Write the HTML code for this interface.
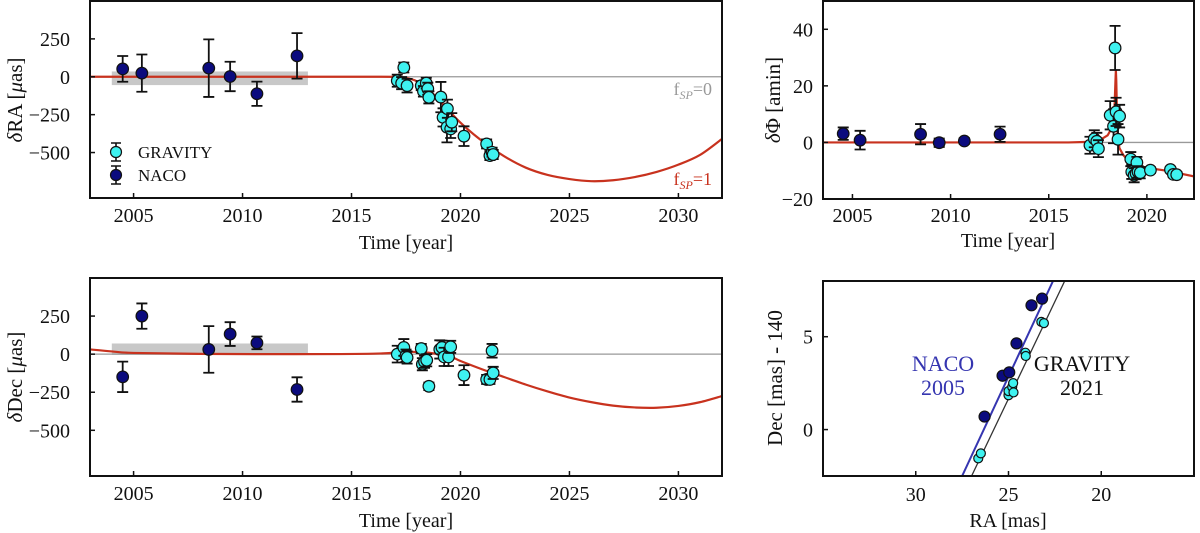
<!DOCTYPE html>
<html><head><meta charset="utf-8"><style>
html,body{margin:0;padding:0;background:#fff;}
svg{display:block;font-family:"Liberation Serif",serif;}
</style></head><body>
<svg id="fig" width="1200" height="533" viewBox="0 0 1200 533" xmlns="http://www.w3.org/2000/svg"></svg>
<script>
// ---- data ----
const raNacoT=[2004.5,2005.38,2008.45,2009.43,2010.66,2012.5];
const raNacoV=[52,24,57,2,-112,138];
const raNacoE=[85,123,190,97,80,150];
const raGravT=[2017.1,2017.3,2017.4,2017.55,2018.2,2018.3,2018.43,2018.5,2018.55,2019.1,2019.2,2019.38,2019.4,2019.55,2019.6,2020.16,2021.2,2021.35,2021.45,2021.5];
const raGravV=[-26,-42,61,-59,-59,-96,-42,-79,-136,-134,-268,-333,-211,-344,-300,-392,-443,-520,-498,-513];
const raGravE=[40,40,33,45,30,35,35,40,40,100,60,100,60,60,60,65,30,30,30,30];
const raCurveT=[2003,2016,2017,2017.5,2018,2018.5,2019,2020,2021,2022,2023,2024,2025,2026,2027,2028,2029,2030,2031,2032];
const raCurveV=[0,0,-3,-8,-30,-80,-151,-303,-425,-524,-600,-648,-675,-689,-683,-662,-628,-580,-515,-410];

const decNacoT=[2004.5,2005.38,2008.45,2009.43,2010.66,2012.5];
const decNacoV=[-149,250,31,132,74,-232];
const decNacoE=[100,83,153,78,42,80];
const decGravT=[2017.1,2017.4,2017.5,2017.55,2018.2,2018.25,2018.35,2018.45,2018.55,2019.05,2019.15,2019.25,2019.45,2019.55,2020.16,2021.2,2021.35,2021.45,2021.5];
const decGravV=[0,44,-10,-22,37,-66,-50,-40,-211,31,44,-18,-18,48,-138,-166,-166,22,-123];
const decGravE=[55,55,40,40,30,40,40,40,25,60,45,60,60,40,65,30,30,45,40];
const decCurveT=[2003,2004,2005,2008,2012,2016,2017.5,2018.5,2019.5,2020,2021,2022,2023,2024,2025,2026,2027,2028,2029,2030,2031,2032];
const decCurveV=[31,18,8,2,0,3,15,10,-15,-45,-100,-150,-200,-245,-285,-315,-338,-350,-352,-340,-315,-275];

const phiNacoT=[2004.53,2005.39,2008.47,2009.42,2010.7,2012.52];
const phiNacoV=[3.1,0.8,2.9,-0.1,0.5,2.9];
const phiNacoE=[2.2,3.3,3.6,1.5,1,2.7];
const phiGravT=[2017.1,2017.32,2017.45,2017.53,2018.13,2018.3,2018.38,2018.43,2018.53,2018.61,2019.18,2019.23,2019.35,2019.45,2019.49,2019.55,2019.66,2020.18,2021.2,2021.35,2021.52];
const phiGravV=[-1,1.3,0.4,-2.2,9.6,5.7,33.4,10.8,1.1,9.3,-5.9,-10.4,-11.6,-11,-7.1,-10.4,-10.7,-9.8,-9.6,-11.3,-11.4];
const phiGravE=[3,3,3,3,5,6,7.8,5,5.4,4,2.5,2.5,2.5,2,2,2,2,1,1,1,1];
const phiCurveT=[2003.5,2016,2017,2017.6,2018.0,2018.2,2018.3,2018.36,2018.4,2018.42,2018.44,2018.47,2018.5,2018.6,2018.8,2019,2019.5,2020,2021,2022.4];
const phiCurveV=[0,0,0.2,0.8,2.5,5,8,14,22,25.5,22,12,4,-2,-4.5,-6,-8,-9,-10,-12];

const skyNacoRA=[26.29,25.32,24.96,24.57,23.76,23.19];
const skyNacoDec=[0.70,2.9,3.08,4.64,6.69,7.05];
const skyGravRA=[26.63,26.49,25.0,25.0,24.8,24.75,24.73,24.09,24.07,23.23,23.09];
const skyGravDec=[-1.55,-1.28,1.85,2.07,2.3,2.5,2.0,4.14,3.96,5.8,5.73];
const naco2005LineRA=[27.5,22.6];
const naco2005LineDec=[-2.5,8];
const grav2021LineRA=[26.99,21.97];
const grav2021LineDec=[-2.5,8];

const yearTicks=[2005,2010,2015,2020,2025,2030];
const muasTicks=[-500,-250,0,250];
const phiTicks=[-20,0,20,40];
const phiYearTicks=[2005,2010,2015,2020];
const raTicks=[30,25,20];
const decTicks=[0,5];

// ---- drawing ----
const NS='http://www.w3.org/2000/svg';
const svg=document.getElementById('fig');
const RED='#c8321e', CYAN='#3ef2f0', NAVY='#0b0b7e', BLUE='#3535b0';
function el(tag,parent){const e=document.createElementNS(NS,tag);(parent||svg).appendChild(e);return e;}
function set(e,o){for(const k in o)e.setAttribute(k,o[k]);return e;}
function scale(d0,d1,r0,r1){return v=>r0+(v-d0)*(r1-r0)/(d1-d0);}

function panel(name,x0,x1,y0,y1,xd,yd){
  const g=el('g');
  
  
  const cp=el('clipPath',g);set(cp,{id:name+'-clip'});
  const r=el('rect',cp);set(r,{x:x0,y:y0,width:x1-x0,height:y1-y0});
  const inner=el('g',g);set(inner,{'clip-path':'url(#'+name+'-clip)'});
  
  
  return {g,inner,x0,x1,y0,y1,sx:scale(xd[0],xd[1],x0,x1),sy:scale(yd[0],yd[1],y0,y1)};
}
function frame(p){
  const f=el('rect',p.g);set(f,{x:p.x0,y:p.y0,width:p.x1-p.x0,height:p.y1-p.y0,fill:'none',stroke:'#111','stroke-width':2});
  
  
}
function xticks(p,ticks,labY){
  ticks.forEach(t=>{
    const x=p.sx(t);
    const l=el('line',p.g);set(l,{x1:x,x2:x,y1:p.y1,y2:p.y1-5,stroke:'#111','stroke-width':1.5});
    
    
    const tx=el('text',p.g);set(tx,{x:x,y:labY,'text-anchor':'middle','font-size':20,fill:'#111'});
    tx.textContent=String(t).replace('-','−');
    
    
  });
}
function yticks(p,ticks,labX){
  ticks.forEach(t=>{
    const y=p.sy(t);
    const l=el('line',p.g);set(l,{x1:p.x0,x2:p.x0+5,y1:y,y2:y,stroke:'#111','stroke-width':1.5});
    
    
    const tx=el('text',p.g);set(tx,{x:labX,y:y+7,'text-anchor':'end','font-size':20,fill:'#111'});
    tx.textContent=String(t).replace('-','−');
    
    
  });
}
function curve(p,xs,ys,color,w,nm,smooth){
  const P=xs.map((x,i)=>[p.sx(x),p.sy(ys[i])]);
  let d='M'+P[0][0].toFixed(2)+','+P[0][1].toFixed(2);
  for(let i=0;i<P.length-1;i++){
    if(!smooth){d+='L'+P[i+1][0].toFixed(2)+','+P[i+1][1].toFixed(2);continue;}
    const p0=P[Math.max(0,i-1)],p1=P[i],p2=P[i+1],p3=P[Math.min(P.length-1,i+2)];
    const c1=[p1[0]+(p2[0]-p0[0])/6,p1[1]+(p2[1]-p0[1])/6];
    const c2=[p2[0]-(p3[0]-p1[0])/6,p2[1]-(p3[1]-p1[1])/6];
    d+='C'+c1[0].toFixed(2)+','+c1[1].toFixed(2)+' '+c2[0].toFixed(2)+','+c2[1].toFixed(2)+' '+p2[0].toFixed(2)+','+p2[1].toFixed(2);
  }
  const path=el('path',p.inner);set(path,{d:d,fill:'none',stroke:color,'stroke-width':w,'stroke-linejoin':'round'});
  
  
}
function hline(p,v,color,nm){
  const l=el('line',p.inner);set(l,{x1:p.x0,x2:p.x1,y1:p.sy(v),y2:p.sy(v),stroke:color,'stroke-width':1.3});
  
  
}
function points(p,xs,ys,es,fill,r,nm){
  xs.forEach((x,i)=>{
    const cx=p.sx(x),cy=p.sy(ys[i]);
    if(es){
      const yt=p.sy(ys[i]+es[i]),yb=p.sy(ys[i]-es[i]);
      const eb=el('path',p.inner);
      set(eb,{d:`M${cx},${yt}L${cx},${yb}M${cx-5.5},${yt}L${cx+5.5},${yt}M${cx-5.5},${yb}L${cx+5.5},${yb}`,stroke:'#111','stroke-width':1.8,fill:'none'});
      
      
    }
    const c=el('circle',p.inner);set(c,{cx:cx,cy:cy,r:r,fill:fill,stroke:'#111','stroke-width':1.2});
    
    
  });
}
function text(x,y,str,opts,nm,parent){
  const t=el('text',parent);set(t,Object.assign({x:x,y:y,'font-size':20,fill:'#111'},opts||{}));
  t.innerHTML=str;
  
  
  return t;
}

// Panel 1: dRA
const p1=panel('ra-offset-panel',90,722,1,198,[2003,2032],[500,-800]);
const sh1=el('rect',p1.inner);set(sh1,{x:p1.sx(2004),y:p1.sy(35),width:p1.sx(2013)-p1.sx(2004),height:p1.sy(-55)-p1.sy(35),fill:'#c8c8c8'});


hline(p1,0,'#999','fsp0-line');
curve(p1,raCurveT,raCurveV,RED,2.2,'fsp1-curve',true);
points(p1,raNacoT,raNacoV,raNacoE,NAVY,5.8,'naco');
points(p1,raGravT,raGravV,raGravE,CYAN,5.8,'gravity');
frame(p1);xticks(p1,yearTicks,222);yticks(p1,muasTicks,70);
text(712,95,'f<tspan font-style="italic" font-size="12" dy="4">SP</tspan><tspan dy="-4">=0</tspan>',{'text-anchor':'end',fill:'#999','font-size':18},'fsp0-label');
text(712,185,'f<tspan font-style="italic" font-size="12" dy="4">SP</tspan><tspan dy="-4">=1</tspan>',{'text-anchor':'end',fill:RED,'font-size':18},'fsp1-label');
text(406,249,'Time [year]',{'text-anchor':'middle'},'x-axis-title');
text(0,0,'<tspan font-style="italic">δ</tspan>RA [<tspan font-style="italic">μ</tspan>as]',{transform:'translate(22,100) rotate(-90)','text-anchor':'middle','font-size':21},'y-axis-title');
// legend
[[152,CYAN,'GRAVITY'],[175,NAVY,'NACO']].forEach(([y,c,l])=>{
  const g=el('g');
  
  
  const eb=el('path',g);set(eb,{d:`M116,${y-9}L116,${y+9}M111,${y-9}L121,${y-9}M111,${y+9}L121,${y+9}`,stroke:'#111','stroke-width':1.6,fill:'none'});
  const ci=el('circle',g);set(ci,{cx:116,cy:y,r:5.5,fill:c,stroke:'#111','stroke-width':1.2});
  text(138,y+6,l,{'font-size':17},'legend-label',g);
});

// Panel 2: dPhi
const p2=panel('phi-offset-panel',823,1194,1,199,[2003.5,2022.4],[50,-20]);
hline(p2,0,'#999','zero-line');
curve(p2,phiCurveT,phiCurveV,RED,2.2,'phi-model-curve',false);
points(p2,phiNacoT,phiNacoV,phiNacoE,NAVY,5.8,'naco');
points(p2,phiGravT,phiGravV,phiGravE,CYAN,5.8,'gravity');
frame(p2);xticks(p2,phiYearTicks,222);yticks(p2,phiTicks,813);
text(1008,247,'Time [year]',{'text-anchor':'middle'},'x-axis-title');
text(0,0,'<tspan font-style="italic">δ</tspan>Φ [amin]',{transform:'translate(780,100) rotate(-90)','text-anchor':'middle','font-size':21},'y-axis-title');

// Panel 3: dDec
const p3=panel('dec-offset-panel',90,722,278,476,[2003,2032],[500,-800]);
const sh3=el('rect',p3.inner);set(sh3,{x:p3.sx(2004),y:p3.sy(70),width:p3.sx(2013)-p3.sx(2004),height:p3.sy(-5)-p3.sy(70),fill:'#c8c8c8'});


hline(p3,0,'#999','zero-line');
curve(p3,decCurveT,decCurveV,RED,2.2,'fsp1-curve',true);
points(p3,decNacoT,decNacoV,decNacoE,NAVY,5.8,'naco');
points(p3,decGravT,decGravV,decGravE,CYAN,5.8,'gravity');
frame(p3);xticks(p3,yearTicks,500);yticks(p3,muasTicks,70);
text(406,527,'Time [year]',{'text-anchor':'middle'},'x-axis-title');
text(0,0,'<tspan font-style="italic">δ</tspan>Dec [<tspan font-style="italic">μ</tspan>as]',{transform:'translate(22,377) rotate(-90)','text-anchor':'middle','font-size':21},'y-axis-title');

// Panel 4: sky
const p4=panel('sky-position-panel',823,1194,281,476,[35,15],[8,-2.5]);
curve(p4,naco2005LineRA,naco2005LineDec,BLUE,2,'naco-2005-line',false);
curve(p4,grav2021LineRA,grav2021LineDec,'#333',1.3,'gravity-2021-line',false);
points(p4,skyNacoRA,skyNacoDec,null,NAVY,5.5,'naco');
points(p4,skyGravRA,skyGravDec,null,CYAN,4.5,'gravity');
frame(p4);xticks(p4,raTicks,501);yticks(p4,decTicks,813);
text(943,371,'NACO',{'text-anchor':'middle',fill:BLUE,'font-size':22},'naco-2005-label');
text(943,395,'2005',{'text-anchor':'middle',fill:BLUE,'font-size':22},'naco-2005-year');
text(1082,371,'GRAVITY',{'text-anchor':'middle','font-size':22},'gravity-2021-label');
text(1082,395,'2021',{'text-anchor':'middle','font-size':22},'gravity-2021-year');
text(1008,527,'RA [mas]',{'text-anchor':'middle'},'x-axis-title');
text(0,0,'Dec [mas] - 140',{transform:'translate(782,378) rotate(-90)','text-anchor':'middle','font-size':21},'y-axis-title');
</script>
</body></html>
